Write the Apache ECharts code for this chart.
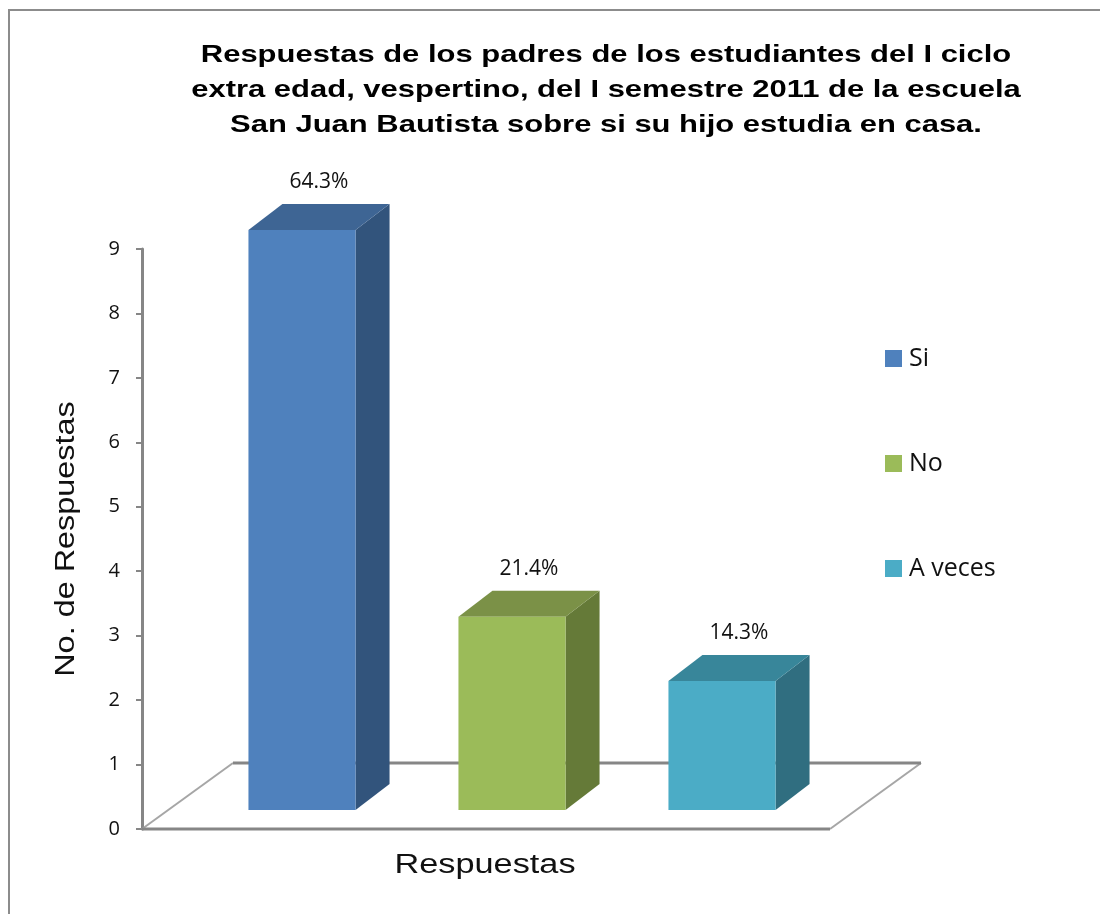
<!DOCTYPE html>
<html>
<head>
<meta charset="utf-8">
<title>Respuestas de los padres</title>
<script src="https://cdn.jsdelivr.net/npm/echarts@6/dist/echarts.min.js"></script>
<style>
  html, body { margin: 0; padding: 0; background: #fff; }
  #chart { width: 1100px; height: 914px; }
</style>
</head>
<body>
<div id="chart"></div>
<script>
// data
var categories = ['Si', 'No', 'A veces'];
var respuestas = [9, 3, 2];
var yTicks = [0, 1, 2, 3, 4, 5, 6, 7, 8, 9];
var titleLines = [
  'Respuestas de los padres de los estudiantes del I ciclo',
  'extra edad, vespertino, del I semestre 2011 de la escuela',
  'San Juan Bautista sobre si su hijo estudia en casa.'
];
var xName = 'Respuestas';
var yName = 'No. de Respuestas';

// colours: front, side, top
var faceColors = ['#4F81BD', '#9BBB59', '#4BACC6'];
var sideColors = ['#32547C', '#657A38', '#306E80'];
var topColors = ['#3E6594', '#7B9147', '#38869A'];

// fake 3d depth of the bars and the floor
var BAR_DX = 34, BAR_DY = -26;
var SHIFT_X = 55, SHIFT_Y = -19;
var FLOOR_DX = 91, FLOOR_DY = -66, FLOOR_EXTRA = 58;

var total = respuestas.reduce(function (a, b) { return a + b; }, 0);

function renderBar(params, api) {
  var idx = api.value(0);
  var val = api.value(1);
  var base = api.coord([idx, 0]);
  var top = api.coord([idx, val]);
  var w = api.size([1, 0])[0] * 0.51;
  var x0 = base[0] + SHIFT_X - w / 2;
  var x1 = x0 + w;
  var yb = base[1] + SHIFT_Y;
  var yt = top[1] + SHIFT_Y;
  var pct = (val / total * 100).toFixed(1) + '%';
  return {
    type: 'group',
    children: [
      { type: 'polygon', shape: { points: [[x1, yb], [x1 + BAR_DX, yb + BAR_DY], [x1 + BAR_DX, yt + BAR_DY], [x1, yt]] },
        style: { fill: sideColors[idx] } },
      { type: 'polygon', shape: { points: [[x0, yt], [x1, yt], [x1 + BAR_DX, yt + BAR_DY], [x0 + BAR_DX, yt + BAR_DY]] },
        style: { fill: topColors[idx] } },
      { type: 'rect', shape: { x: x0, y: yt, width: w, height: yb - yt },
        style: { fill: faceColors[idx] } },
      { type: 'text', x: (x0 + x1) / 2 + BAR_DX / 2, y: yt + BAR_DY - 22,
        style: { text: pct, align: 'center', verticalAlign: 'middle',
          font: '21px "Open Sans"', fill: '#111' } }
    ]
  };
}

function renderFloor(params, api) {
  var cs = params.coordSys;
  var y0 = cs.y + cs.height;
  var xl = cs.x;
  var xr = cs.x + cs.width + FLOOR_EXTRA;
  return {
    type: 'group',
    children: [
      { type: 'line', shape: { x1: xl, y1: y0, x2: xl + FLOOR_DX, y2: y0 + FLOOR_DY },
        style: { stroke: '#a6a6a6', lineWidth: 2 } },
      { type: 'line', shape: { x1: xr, y1: y0, x2: xr + FLOOR_DX, y2: y0 + FLOOR_DY },
        style: { stroke: '#a6a6a6', lineWidth: 2 } },
      { type: 'line', shape: { x1: xl + FLOOR_DX, y1: y0 + FLOOR_DY, x2: xr + FLOOR_DX, y2: y0 + FLOOR_DY },
        style: { stroke: '#868686', lineWidth: 3 } },
      { type: 'line', shape: { x1: xl, y1: y0, x2: xr, y2: y0 },
        style: { stroke: '#868686', lineWidth: 3 } }
    ]
  };
}

var series = [{
  type: 'custom',
  name: 'floor',
  renderItem: renderFloor,
  data: [[0, 0]],
  silent: true,
  z: 1
}];
categories.forEach(function (c, i) {
  series.push({
    type: 'custom',
    name: c,
    renderItem: renderBar,
    itemStyle: { color: faceColors[i] },
    data: [[i, respuestas[i]]],
    silent: true,
    z: 2
  });
});

// stretched texts (the original picture is widened)
var graphics = [{
  type: 'rect',
  silent: true,
  shape: { x: 9, y: 10, width: 1300, height: 1100 },
  style: { fill: null, stroke: '#8c8c8c', lineWidth: 2 }
}];
titleLines.forEach(function (t, i) {
  graphics.push({
    type: 'text', silent: true,
    x: 606, y: 55 + i * 35, scaleX: 1.29,
    style: { text: t, align: 'center', verticalAlign: 'middle',
      font: 'bold 24px "Liberation Sans", Arial, sans-serif', fill: '#000' }
  });
});
graphics.push({
  type: 'text', silent: true,
  x: 485, y: 866, scaleX: 1.27,
  style: { text: xName, align: 'center', verticalAlign: 'middle',
    font: '27px "Liberation Sans", Arial, sans-serif', fill: '#111' }
});
graphics.push({
  type: 'text', silent: true,
  x: 67, y: 539, rotation: Math.PI / 2, scaleX: 1.2,
  style: { text: yName, align: 'center', verticalAlign: 'middle',
    font: '27px "Liberation Sans", Arial, sans-serif', fill: '#111' }
});

var chart = echarts.init(document.getElementById('chart'));
chart.setOption({
  animation: false,
  backgroundColor: '#fff',
  textStyle: { fontFamily: '"Open Sans", sans-serif' },
  legend: {
    data: categories,
    orient: 'vertical',
    left: 880,
    top: 341,
    itemWidth: 17,
    itemHeight: 17,
    itemGap: 80,
    icon: 'rect',
    selectedMode: false,
    textStyle: { fontFamily: '"Open Sans"', fontSize: 25, color: '#111', padding: [0, 0, 0, 2] }
  },
  grid: { left: 142, top: 249, width: 630, bottom: 85, containLabel: false },
  xAxis: {
    type: 'category',
    data: categories,
    axisLine: { show: false },
    axisTick: { show: false },
    axisLabel: { show: false },
    splitLine: { show: false }
  },
  yAxis: {
    type: 'value',
    min: yTicks[0],
    max: yTicks[yTicks.length - 1],
    interval: 1,
    axisLine: { show: true, lineStyle: { color: '#868686', width: 3 } },
    axisTick: { show: true, length: 6, lineStyle: { color: '#868686', width: 2 } },
    axisLabel: { margin: 22, fontFamily: '"Open Sans"', fontSize: 20, color: '#111' },
    splitLine: { show: false }
  },
  graphic: graphics,
  series: series
});
</script>
</body>
</html>
